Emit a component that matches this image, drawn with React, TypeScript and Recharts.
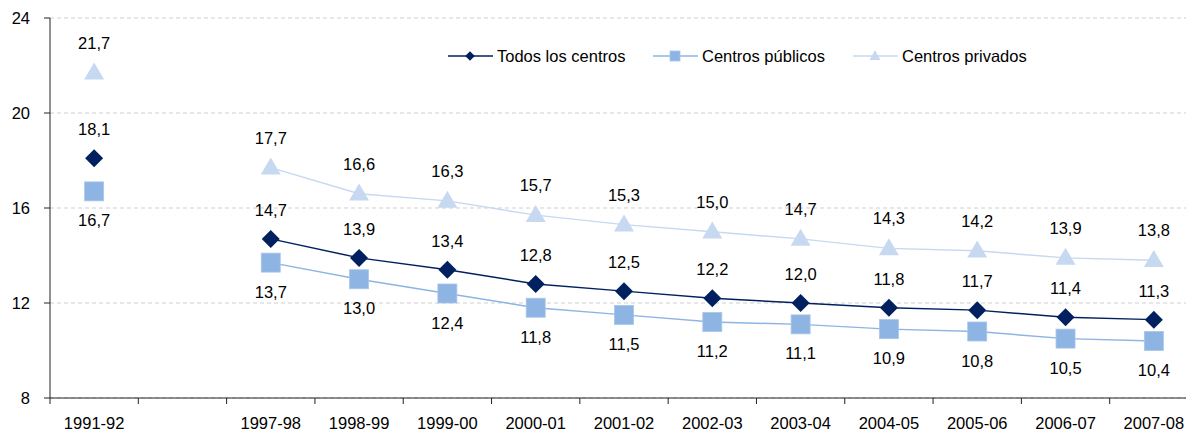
import { LineChart, Line, XAxis, YAxis, CartesianGrid, LabelList } from 'recharts'

const years = ['1991-92', '', '1997-98', '1998-99', '1999-00', '2000-01', '2001-02', '2002-03', '2003-04', '2004-05', '2005-06', '2006-07', '2007-08']
const todos = [18.1, null, 14.7, 13.9, 13.4, 12.8, 12.5, 12.2, 12.0, 11.8, 11.7, 11.4, 11.3]
const publicos = [16.7, null, 13.7, 13.0, 12.4, 11.8, 11.5, 11.2, 11.1, 10.9, 10.8, 10.5, 10.4]
const privados = [21.7, null, 17.7, 16.6, 16.3, 15.7, 15.3, 15.0, 14.7, 14.3, 14.2, 13.9, 13.8]
const yTicks = [8, 12, 16, 20, 24]

const data = years.map((year, i) => ({ year, todos: todos[i], publicos: publicos[i], privados: privados[i] }))

const NAVY = '#002060'
const BLUE = '#8DB4E2'
const LIGHT = '#C6D9F1'
const FONT = '"Liberation Sans", Arial, sans-serif'
const FS = 16.5

const CHART_W = 1210
const CHART_H = 434
const Y_W = 50
const M_RIGHT = 12
const BAND = (CHART_W - Y_W - M_RIGHT) / years.length

const fmt = (v: number) => v.toFixed(1).replace('.', ',')

function Diamond({ cx, cy, r = 9, fill = NAVY }: any) {
  if (cx == null || cy == null) return <g />
  return <path d={`M${cx},${cy - r}L${cx + r},${cy}L${cx},${cy + r}L${cx - r},${cy}Z`} fill={fill} />
}

function Square({ cx, cy, s = 19, fill = BLUE }: any) {
  if (cx == null || cy == null) return <g />
  return <rect x={cx - s / 2} y={cy - s / 2} width={s} height={s} fill={fill} stroke="#a9c6ea" strokeWidth={0.8} />
}

function Triangle({ cx, cy, w = 20, h = 17, fill = LIGHT }: any) {
  if (cx == null || cy == null) return <g />
  return <path d={`M${cx},${cy - h * 0.6}L${cx + w / 2},${cy + h * 0.4}L${cx - w / 2},${cy + h * 0.4}Z`} fill={fill} />
}

const labelAt = (dy: number) => (props: any) => {
  const { x, y, value } = props
  if (value == null || x == null) return null
  return (
    <text x={x} y={y + dy} textAnchor="middle" fontSize={FS} fontFamily={FONT} fill="#000">
      {fmt(value)}
    </text>
  )
}

function XTick({ x, y, payload, index }: any) {
  const left = x - BAND / 2
  return (
    <g>
      <line x1={left} y1={y} x2={left} y2={y + 6} stroke="#222" />
      {index === years.length - 1 && <line x1={x + BAND / 2} y1={y} x2={x + BAND / 2} y2={y + 6} stroke="#222" />}
      <text x={x} y={y + 31} textAnchor="middle" fontSize={FS} fontFamily={FONT} fill="#000">
        {payload.value}
      </text>
    </g>
  )
}

function LegendBox() {
  const item = (x0: number, stroke: string, marker: any, label: string) => (
    <g>
      <line x1={x0} y1={12} x2={x0 + 45} y2={12} stroke={stroke} strokeWidth={1.5} />
      {marker(x0 + 22)}
      <text x={x0 + 49} y={17.5} fontSize={FS} fontFamily={FONT} fill="#000">{label}</text>
    </g>
  )
  return (
    <svg width={600} height={26} style={{ position: 'absolute', top: 44, left: 440 }}>
      {item(8, NAVY, (cx: number) => <Diamond cx={cx} cy={12} r={4.8} />, 'Todos los centros')}
      {item(213, BLUE, (cx: number) => <Square cx={cx} cy={12} s={10} />, 'Centros públicos')}
      {item(413, LIGHT, (cx: number) => <Triangle cx={cx} cy={12} w={11} h={10} />, 'Centros privados')}
    </svg>
  )
}

export default function App() {
  return (
    <div style={{ position: 'absolute', left: 0, top: 0, width: 1186, height: 434, overflow: 'hidden', background: '#fff' }}>
      <LineChart width={CHART_W} height={CHART_H} data={data} margin={{ top: 18, right: M_RIGHT, bottom: 0, left: 0 }}>
        <CartesianGrid vertical={false} stroke="#cfcfcf" strokeDasharray="4 3" />
        <XAxis
          dataKey="year"
          interval={0}
          height={36}
          tickSize={0}
          tickMargin={0}
          tickLine={false}
          padding={{ left: BAND / 2, right: BAND / 2 }}
          axisLine={{ stroke: '#222' }}
          tick={<XTick />}
        />
        <YAxis
          width={Y_W}
          domain={[8, 24]}
          ticks={yTicks}
          interval={0}
          tickSize={6}
          tickMargin={14}
          axisLine={{ stroke: '#222' }}
          tickLine={{ stroke: '#222' }}
          tick={{ fontSize: FS, fontFamily: FONT, fill: '#000' }}
        />
        <Line dataKey="privados" stroke={LIGHT} strokeWidth={1.5} connectNulls={false} isAnimationActive={false}
          dot={(p: any) => <Triangle key={p.index} cx={p.cx} cy={p.cy} />}>
          <LabelList dataKey="privados" content={labelAt(-24)} />
        </Line>
        <Line dataKey="publicos" stroke={BLUE} strokeWidth={1.5} connectNulls={false} isAnimationActive={false}
          dot={(p: any) => <Square key={p.index} cx={p.cx} cy={p.cy} />}>
          <LabelList dataKey="publicos" content={labelAt(35)} />
        </Line>
        <Line dataKey="todos" stroke={NAVY} strokeWidth={1.5} connectNulls={false} isAnimationActive={false}
          dot={(p: any) => <Diamond key={p.index} cx={p.cx} cy={p.cy} />}>
          <LabelList dataKey="todos" content={labelAt(-23)} />
        </Line>
      </LineChart>
      <LegendBox />
    </div>
  )
}
